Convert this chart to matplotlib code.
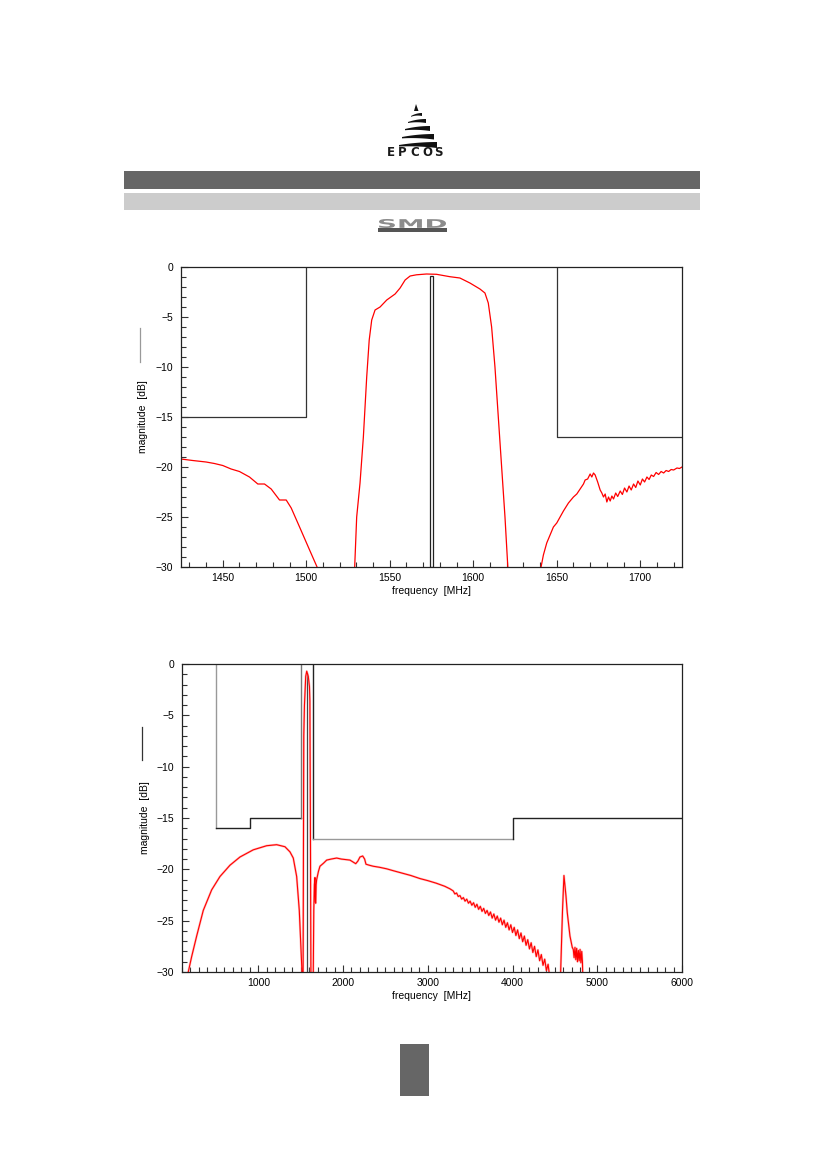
import numpy as np
import matplotlib
matplotlib.use('Agg')
import matplotlib.pyplot as plt
from matplotlib.patches import Rectangle, Polygon, PathPatch
from matplotlib.textpath import TextPath
from matplotlib.font_manager import FontProperties
from matplotlib.transforms import Affine2D
from matplotlib.ticker import MultipleLocator

plt.rcParams['font.family'] = ['Liberation Sans', 'DejaVu Sans']

# ---- top chart: passband detail (MHz, dB)
f_top = [1425, 1432, 1440, 1445, 1450, 1455, 1460, 1466, 1471, 1475, 1479, 1484, 1488, 1491,
         1496, 1502, 1507, 1509, 1518, 1528.7, 1529, 1530.2, 1532.2, 1534.2, 1536.2, 1537.7,
         1539.2, 1541.2, 1544.2, 1548.2, 1553.2, 1556.2, 1559.2, 1562.2, 1566, 1572, 1578,
         1586, 1592, 1598, 1604, 1607, 1609, 1611, 1613, 1615, 1617, 1619, 1620.7, 1621, 1630,
         1640.4, 1640.6, 1642, 1644, 1646, 1648, 1650, 1652, 1654, 1657, 1660, 1662, 1664,
         1666, 1667, 1668.5, 1670, 1671, 1672, 1673, 1674.5, 1676, 1677, 1678, 1679, 1680,
         1681, 1682, 1683, 1684, 1685.3, 1686.5, 1688, 1689.3, 1690.6, 1692, 1693.3, 1694.6,
         1696, 1697.3, 1698.6, 1700, 1701.3, 1702.6, 1704, 1705.3, 1706.6, 1708, 1709.5, 1711,
         1712.5, 1714, 1715.5, 1717, 1718.5, 1720, 1722, 1723.5, 1725]
s21_top = [-19.2, -19.35, -19.5, -19.65, -19.85, -20.2, -20.45, -21.0, -21.7, -21.7, -22.2,
           -23.3, -23.3, -24.1, -26.0, -28.3, -30.2, -31.5, -40, -31, -30, -25, -21.6, -17,
           -11, -7.3, -5.3, -4.3, -4.0, -3.3, -2.7, -2.1, -1.3, -0.9, -0.78, -0.7, -0.73,
           -0.97, -1.1, -1.6, -2.2, -2.6, -3.6, -6.0, -10, -15, -20, -25, -30, -31, -40,
           -31, -30, -28.8, -27.6, -26.8, -26.0, -25.6, -25.0, -24.4, -23.6, -23.0, -22.7,
           -22.2, -21.7, -21.3, -21.2, -20.7, -21.0, -20.6, -20.8, -21.5, -22.3, -22.6,
           -23.0, -22.7, -23.5, -23.0, -23.4, -22.9, -23.2, -22.6, -22.95, -22.4, -22.75,
           -22.1, -22.5, -21.9, -22.3, -21.7, -22.05, -21.4, -21.8, -21.2, -21.5, -21.0,
           -21.25, -20.8, -20.95, -20.55, -20.75, -20.45, -20.6, -20.35, -20.45, -20.25,
           -20.3, -20.1, -20.15, -20.0]

# ---- bottom chart: wideband (MHz, dB)
f_bot = [150, 174, 214, 273, 351, 450, 548, 666, 784, 941, 1099, 1217, 1315, 1374, 1413,
         1453, 1484, 1504, 1516, 1520, 1526, 1529, 1537, 1545, 1560, 1572, 1590, 1604, 1609,
         1615, 1621, 1625, 1645, 1649, 1655, 1662, 1669, 1673, 1678, 1683, 1689, 1710, 1728,
         1770, 1807, 1860, 1925, 1980, 2030, 2082, 2120, 2150, 2175, 2200, 2232, 2255, 2271,
         2310, 2357, 2430, 2515, 2600, 2712, 2800, 2908, 3000, 3100, 3200, 3262,
         3300, 3320, 3340, 3360, 3380, 3400, 3420, 3440, 3460, 3480, 3500, 3520, 3540, 3560,
         3580, 3600, 3620, 3640, 3660, 3680, 3700, 3720, 3740, 3760, 3780, 3800, 3820, 3840,
         3860, 3880, 3900, 3920, 3940, 3960, 3980, 4000, 4020, 4040, 4060, 4080, 4100, 4120,
         4140, 4160, 4180, 4200, 4220, 4240, 4260, 4280, 4300, 4320, 4340, 4360, 4380, 4400,
         4420, 4440, 4450, 4560, 4568, 4590, 4607, 4615, 4631, 4646, 4660, 4678, 4690, 4705,
         4717, 4727, 4737, 4747, 4757, 4767, 4777, 4787, 4797, 4807, 4817, 4825, 4828, 4830]
s21_bot = [-33, -30, -28.5, -26.5, -24.0, -22.0, -20.7, -19.6, -18.8, -18.1, -17.7, -17.6,
           -17.8, -18.3, -18.9, -20.7, -24, -27.9, -30, -33, -33, -30, -7, -4, -1.2, -0.7,
           -1.2, -2.2, -3.6, -15, -30, -33, -33, -30, -24, -21.5, -20.8, -23.2, -23.3, -21.5,
           -21.0, -20.2, -19.7, -19.4, -19.1, -19.0, -18.9, -19.0, -19.05, -19.1, -19.3,
           -19.45, -19.2, -18.8, -18.7, -19.0, -19.5, -19.6, -19.7, -19.8, -19.95, -20.15,
           -20.4, -20.6, -20.9, -21.1, -21.35, -21.65, -21.9,
           -22.10, -22.40, -22.30, -22.65, -22.55, -22.90, -22.75, -23.10, -22.90, -23.30,
           -23.10, -23.50, -23.25, -23.70, -23.40, -23.90, -23.60, -24.10, -23.80, -24.30,
           -24.00, -24.50, -24.15, -24.75, -24.35, -24.95, -24.55, -25.15, -24.75, -25.40,
           -24.95, -25.65, -25.20, -25.90, -25.40, -26.15, -25.65, -26.45, -25.90, -26.75,
           -26.20, -27.05, -26.50, -27.40, -26.85, -27.75, -27.15, -28.10, -27.50, -28.50,
           -27.85, -28.90, -28.30, -29.35, -28.75, -29.85, -29.25, -30.6, -33, -33, -30,
           -24, -20.6, -21.3, -22.6, -24.2, -25.2, -26.5, -27.0, -27.6, -27.8, -28.6, -27.6,
           -28.8, -27.7, -29.0, -27.9, -28.9, -27.8, -29.1, -28.0, -29.0, -30, -33]

# ---- specification masks
top_mask_lo_f = [1425, 1500, 1500]
top_mask_lo_db = [-15, -15, 0]
top_mask_hi_f = [1650, 1650, 1725]
top_mask_hi_db = [0, -17, -17]
pass_f = [1574, 1576]
pass_db = -0.9

bot_mask = [  # (freqs, levels, colour)
    ([500, 500], [0, -16], '#999999'),
    ([500, 900, 900, 1500], [-16, -16, -15, -15], '#222222'),
    ([1500, 1500], [-15, 0], '#777777'),
    ([1650, 1650], [0, -17], '#222222'),
    ([1650, 4000], [-17, -17], '#999999'),
    ([4000, 4000, 6000], [-17, -15, -15], '#222222'),
]

W, H = 826, 1169
fig = plt.figure(figsize=(W / 100, H / 100), dpi=100)

# page decoration in pixel coordinates
deco = fig.add_axes([0, 0, 1, 1], zorder=-1)
deco.set_xlim(0, W)
deco.set_ylim(H, 0)
deco.axis('off')
deco.add_patch(Rectangle((124, 171), 576, 18, color='#666666', lw=0))
deco.add_patch(Rectangle((124, 193), 576, 17, color='#cccccc', lw=0))
deco.add_patch(Rectangle((400, 1044), 29, 52, color='#666666', lw=0))

# EPCOS logo: tip plus curved stripes widening downwards
deco.add_patch(Polygon([(416, 104), (414, 111), (418.5, 111)], color='#111111', lw=0))
stripes = [(113, 3.0, 411, 422), (119, 4.0, 408, 426), (126, 5.0, 405, 430),
           (134, 5.5, 402, 434), (142, 6.0, 399, 437)]
for y0, th, xl, xr in stripes:
    xs = np.linspace(xl, xr, 12)
    t = (xs - xl) / (xr - xl)
    top = y0 + 3.0 * (1 - t) ** 2
    bot = top + th * (0.25 + 0.75 * t)
    deco.add_patch(Polygon(np.column_stack([np.r_[xs, xs[::-1]], np.r_[top, bot[::-1]]]),
                           color='#111111', lw=0))
for ch, cx in zip('EPCOS', [391, 402.5, 414.5, 427, 438]):
    deco.text(cx, 153, ch, ha='center', va='center', fontsize=8.5, fontweight='bold',
              family='DejaVu Sans', color='#1a1a1a')

# SMD badge: stretched bold letters above a dark bar
deco.add_patch(Rectangle((378, 228), 69, 4, color='#555555', lw=0))
tp = TextPath((0, 0), 'SMD', size=10, prop=FontProperties(family='DejaVu Sans', weight='bold'))
bb = tp.get_extents()
tr = (Affine2D().translate(-bb.x0, -bb.y0)
      .scale(67 / bb.width, -9 / bb.height).translate(379, 228))
deco.add_patch(PathPatch(tr.transform_path(tp), color='#8c8c8c', lw=0))


def style(ax):
    for s in ax.spines.values():
        s.set_color('#222222')
        s.set_linewidth(0.9)
    ax.tick_params(which='both', direction='in', top=False, right=False,
                   color='#333333', labelsize=7.5, width=0.8)
    ax.tick_params(which='major', length=5)
    ax.tick_params(which='minor', length=3.5)
    ax.tick_params(axis='y', pad=5.5)
    ax.tick_params(axis='x', pad=4)
    ax.set_ylim(-30, 0)
    ax.yaxis.set_major_locator(MultipleLocator(5))
    ax.yaxis.set_minor_locator(MultipleLocator(1))


# ---- top chart
ax1 = fig.add_axes([181 / W, 1 - 567 / H, 501 / W, 300 / H])
style(ax1)
ax1.set_xlim(1425, 1725)
ax1.xaxis.set_major_locator(MultipleLocator(50))
ax1.xaxis.set_minor_locator(MultipleLocator(10))
ax1.plot(top_mask_lo_f, top_mask_lo_db, color='#333333', lw=0.9)
ax1.plot(top_mask_hi_f, top_mask_hi_db, color='#333333', lw=0.9)
ax1.add_patch(Rectangle((pass_f[0], -30), pass_f[1] - pass_f[0], 30 + pass_db,
                        fill=False, ec='#222222', lw=0.9))
ax1.plot(f_top, s21_top, color='red', lw=0.9)
ax1.set_xlabel('frequency  [MHz]', fontsize=7.5)
ax1.set_ylabel('magnitude  [dB]', fontsize=7.5)
ax1.xaxis.set_label_coords(0.5, -0.062)
ax1.yaxis.set_label_coords(-0.066, 0.5)
ax1.plot([-0.082, -0.082], [0.683, 0.797], transform=ax1.transAxes, clip_on=False,
         color='#999999', lw=0.9)

# ---- bottom chart
ax2 = fig.add_axes([182 / W, 1 - 972 / H, 500 / W, 308 / H])
style(ax2)
ax2.set_xlim(100, 6000)
ax2.xaxis.set_major_locator(MultipleLocator(1000))
ax2.xaxis.set_minor_locator(MultipleLocator(100))
for fx, lv, c in bot_mask:
    ax2.plot(fx, lv, color=c, lw=1.0)
ax2.add_patch(Rectangle((pass_f[0], -30), pass_f[1] - pass_f[0], 30 + pass_db,
                        fill=False, ec='#444444', lw=0.9))
ax2.plot(f_bot, s21_bot, color='#ff9090', lw=1.6, alpha=0.6)
ax2.plot(f_bot, s21_bot, color='red', lw=0.8)
ax2.set_xlabel('frequency  [MHz]', fontsize=7.5)
ax2.set_ylabel('magnitude  [dB]', fontsize=7.5)
ax2.xaxis.set_label_coords(0.5, -0.062)
ax2.yaxis.set_label_coords(-0.064, 0.5)
ax2.plot([-0.08, -0.08], [0.688, 0.795], transform=ax2.transAxes, clip_on=False,
         color='#333333', lw=0.9)

fig.savefig('out.png', dpi=100)
